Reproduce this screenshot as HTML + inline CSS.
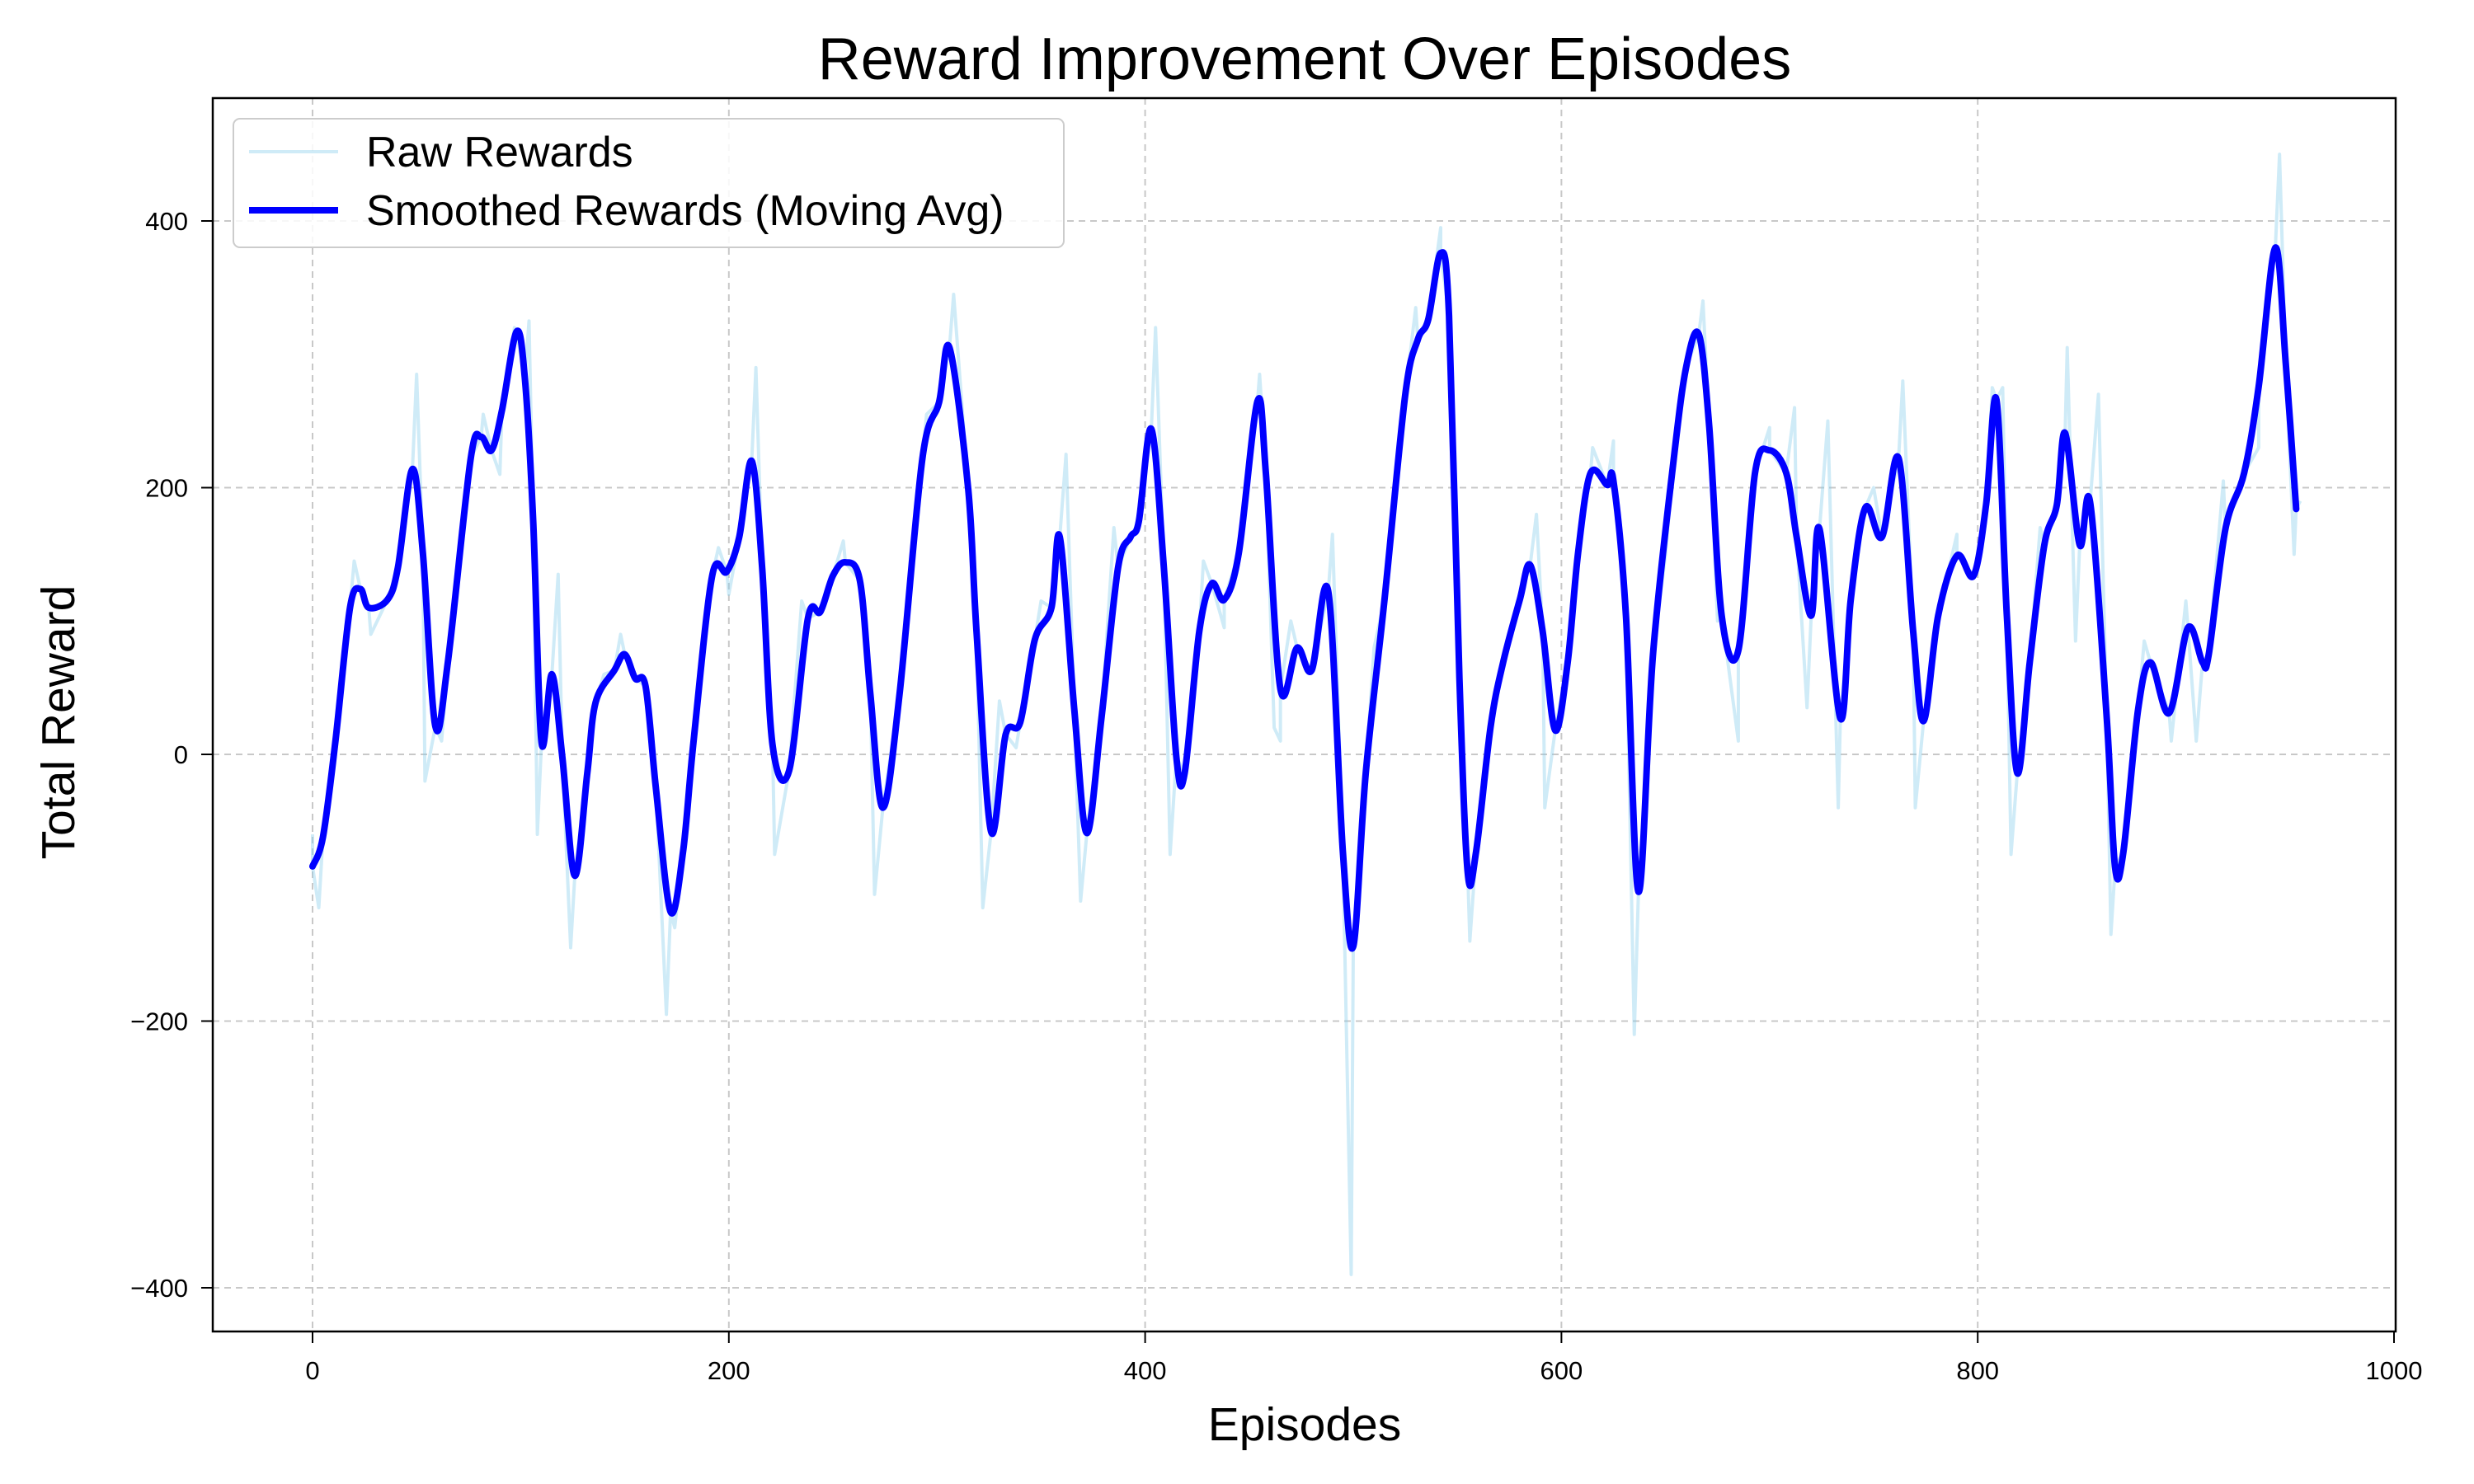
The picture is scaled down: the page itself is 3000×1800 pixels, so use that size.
<!DOCTYPE html>
<html><head><meta charset="utf-8">
<style>
html,body{margin:0;padding:0;background:#fff;}
svg{display:block;font-family:"Liberation Sans","DejaVu Sans",sans-serif;}
</style></head>
<body>
<svg id="chart" width="3000" height="1800" viewBox="0 0 3000 1800" xmlns="http://www.w3.org/2000/svg">
<rect x="0" y="0" width="3000" height="1800" fill="#fff"/>
<text x="1582" y="96" text-anchor="middle" font-size="72" fill="#000">Reward Improvement Over Episodes</text>
<text x="1582" y="1747" text-anchor="middle" font-size="57" fill="#000">Episodes</text>
<text x="0" y="0" transform="translate(90,876) rotate(-90)" text-anchor="middle" font-size="57" fill="#000">Total Reward</text>
<g id="grid"></g>
<g id="plot"></g>
<rect x="258" y="119" width="2647" height="1496" fill="none" stroke="#000" stroke-width="2.5"/>
<g id="ticks"></g>
<g>
  <rect x="283" y="144" width="1007" height="156" rx="8" fill="#fff" fill-opacity="0.85" stroke="#ccc" stroke-width="2"/>
  <line x1="302" y1="184" x2="410" y2="184" stroke="#87ceeb" stroke-opacity="0.4" stroke-width="4"/>
  <text x="444" y="202" font-size="52">Raw Rewards</text>
  <line x1="302" y1="255" x2="410" y2="255" stroke="#0000ff" stroke-width="8"/>
  <text x="444" y="273" font-size="52">Smoothed Rewards (Moving Avg)</text>
</g>
</svg>
<script>
const xTicks = [0,200,400,600,800,1000];
const yTicks = [-400,-200,0,200,400];
const smoothEp = [0,5,11,18,23,27,36,41,48,53,59,65,76,81,86,91,98,102,106,110,115,120,126,132,136,145,150,155,160,165,172,178,183,192,199,205,211,216,221,229,238,244,250,256,263,268,274,282,293,301,306,315,319,326,333,340,347,355,359,366,372,379,387,393,397,403,409,415,419,426,432,438,445,454,458,465,473,480,488,495,500,506,515,525,531,536,542,546,551,555,559,566,572,580,585,591,597,603,608,614,622,625,631,637,644,654,660,666,671,677,685,693,700,708,713,720,724,734,739,746,754,762,769,774,781,790,798,804,809,814,819,825,832,838,842,849,854,862,866,870,877,883,892,901,908,911,919,928,935,943,948,953];
const smoothVal = [-84,-62,10,110,124,110,116,140,214,151,21,69,222,238,228,258,317,282,175,9,60,-2,-91,-14,39,63,75,57,51,-26,-118,-73,9,134,137,163,220,140,7,-12,102,107,134,144,130,45,-40,45,222,264,305,199,92,-58,15,24,86,110,163,33,-59,27,140,163,175,244,140,-2,-14,92,128,116,151,265,211,49,80,63,122,-73,-144,-14,116,270,311,326,376,329,57,-89,-73,21,69,116,142,92,18,69,151,211,202,205,104,-103,75,222,291,315,246,104,78,211,228,211,163,104,169,27,116,185,163,222,92,25,104,149,134,187,266,104,-14,69,157,187,241,157,189,27,-85,-73,33,69,31,95,69,75,169,211,276,380,293,184];
const rawEp = [0,3,20,28,50,54,62,82,90,97,104,108,118,124,140,148,170,174,195,200,213,222,235,255,270,295,308,322,330,338,350,362,369,385,405,412,428,438,455,462,465,470,490,499,510,530,542,556,588,592,615,625,635,650,668,675,685,700,712,718,728,733,750,764,770,790,807,812,816,830,843,847,858,864,880,893,900,905,918,935,945,952,955];
const rawVal = [-60,-115,145,90,285,-20,10,255,210,320,325,-60,135,-145,60,90,-195,-130,155,120,290,-75,115,160,-105,255,345,-115,40,5,115,225,-110,170,320,-75,145,95,285,20,10,100,165,-390,80,335,395,-140,180,-40,230,235,-210,150,340,100,10,245,260,35,250,-40,200,280,-40,165,275,275,-75,170,305,85,270,-135,85,10,115,10,205,230,450,150,190];

const NS='http://www.w3.org/2000/svg';
const X0=379, X1=2903, Y400=268, YM400=1562;
function xs(e){return X0+(e/1000)*(X1-X0);}
function ys(v){return YM400+(v+400)/800*(Y400-YM400);}
function mk(tag,attrs,parent){const el=document.createElementNS(NS,tag);for(const k in attrs)el.setAttribute(k,attrs[k]);parent.appendChild(el);return el;}
const grid=document.getElementById('grid'), ticks=document.getElementById('ticks'), plot=document.getElementById('plot');
xTicks.forEach(t=>{
  const x=xs(t);
  if(t<1000){const g=mk('line',{x1:x,y1:119,x2:x,y2:1615,stroke:'#b0b0b0','stroke-width':2,'stroke-dasharray':'8,6','stroke-opacity':0.7},grid);
  
  }
  const tk=mk('line',{x1:x,y1:1615,x2:x,y2:1629,stroke:'#000','stroke-width':2},ticks);
  
  
  const lb=mk('text',{x:x,y:1673,'text-anchor':'middle','font-size':31},ticks);
  
  
  lb.textContent=String(t);
});
yTicks.forEach(t=>{
  const y=ys(t);
  const g=mk('line',{x1:258,y1:y,x2:2905,y2:y,stroke:'#b0b0b0','stroke-width':2,'stroke-dasharray':'8,6','stroke-opacity':0.7},grid);
  
  
  const tk=mk('line',{x1:244,y1:y,x2:258,y2:y,stroke:'#000','stroke-width':2},ticks);
  
  
  const lb=mk('text',{x:228,y:y+11,'text-anchor':'end','font-size':31},ticks);
  
  
  lb.textContent=(t<0?'\u2212'+Math.abs(t):String(t));
});
const rawPts=[];
rawEp.forEach((e,i)=>rawPts.push([e,rawVal[i]]));
smoothEp.forEach((e,i)=>rawPts.push([e,smoothVal[i]]));
rawPts.sort((a,b)=>a[0]-b[0]);
const rawLine=mk('polyline',{points:rawPts.map(p=>xs(p[0])+','+ys(p[1])).join(' '),fill:'none',stroke:'#87ceeb','stroke-opacity':0.4,'stroke-width':4,'stroke-linejoin':'round'},plot);


const sp=smoothEp.map((e,i)=>[xs(e),ys(smoothVal[i])]);
let d='M'+sp[0][0]+','+sp[0][1];
for(let i=0;i<sp.length-1;i++){
  const p0=sp[Math.max(0,i-1)],p1=sp[i],p2=sp[i+1],p3=sp[Math.min(sp.length-1,i+2)];
  const c1=[p1[0]+(p2[0]-p0[0])/6,p1[1]+(p2[1]-p0[1])/6];
  const c2=[p2[0]-(p3[0]-p1[0])/6,p2[1]-(p3[1]-p1[1])/6];
  d+=' C'+c1[0]+','+c1[1]+' '+c2[0]+','+c2[1]+' '+p2[0]+','+p2[1];
}
const sm=mk('path',{d:d,fill:'none',stroke:'#0000ff','stroke-width':8,'stroke-linejoin':'round','stroke-linecap':'round'},plot);


</script>
</body></html>
